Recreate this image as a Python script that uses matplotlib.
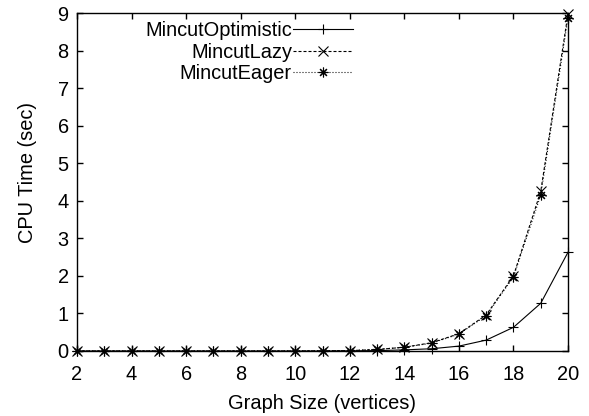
import matplotlib
matplotlib.use("Agg")
import matplotlib.pyplot as plt
import numpy as np

# graph size (number of vertices)
sizes = list(range(2, 21))

# CPU time in seconds for each min-cut strategy
optimistic = [0.0, 0.0, 0.0, 0.0, 0.0, 0.0, 0.0, 0.0, 0.0, 0.0,
              0.005, 0.01, 0.03, 0.06, 0.13, 0.29, 0.63, 1.27, 2.63]
lazy = [0.0, 0.0, 0.0, 0.0, 0.0, 0.0, 0.0, 0.0, 0.0, 0.005,
        0.01, 0.04, 0.10, 0.22, 0.46, 0.96, 2.00, 4.25, 8.98]
eager = [0.0, 0.0, 0.0, 0.0, 0.0, 0.0, 0.0, 0.0, 0.0, 0.005,
         0.01, 0.04, 0.10, 0.21, 0.45, 0.94, 1.97, 4.15, 8.88]

x_ticks = list(range(2, 21, 2))
y_ticks = list(range(0, 10))

plt.rcParams.update({
    "font.family": ["Liberation Sans", "DejaVu Sans"],
    "font.size": 14.4,
    "axes.linewidth": 1.0,
})

fig = plt.figure(figsize=(5.89, 4.16), dpi=100)
ax = fig.add_axes([77 / 589, 1 - 351 / 416, 491 / 589, 338 / 416])

lw = 0.8
ax.plot(sizes, optimistic, color="black", linewidth=lw, marker="+",
        markersize=7, markeredgewidth=0.8, clip_on=False, label="MincutOptimistic")
ax.plot(sizes, lazy, color="black", linewidth=lw, dashes=(2.7, 1.8), marker="x",
        markersize=6.5, markeredgewidth=0.8, clip_on=False, label="MincutLazy")
ax.plot(sizes, eager, color="black", linewidth=lw, dashes=(0.9, 1.8), marker=(8, 2, 0),
        markersize=7, markeredgewidth=0.8, clip_on=False, label="MincutEager")

ax.set_xlim(2, 20)
ax.set_ylim(0, 9)
ax.set_xticks(x_ticks)
ax.set_yticks(y_ticks)
ax.tick_params(direction="in", length=4, width=1.0, top=True, right=True)
ax.tick_params(axis="y", pad=6)
ax.tick_params(axis="x", pad=10)

ax.set_xlabel("Graph Size (vertices)", labelpad=7)
ax.set_ylabel("CPU Time (sec)")
ax.yaxis.set_label_coords(-0.081, 0.527)

leg = ax.legend(loc="upper right", bbox_to_anchor=(0.562, 0.976), frameon=False,
                markerfirst=False, handlelength=3.0, handletextpad=0.05,
                labelspacing=0.13, borderpad=0, borderaxespad=0)

fig.savefig("out.png", dpi=100)
